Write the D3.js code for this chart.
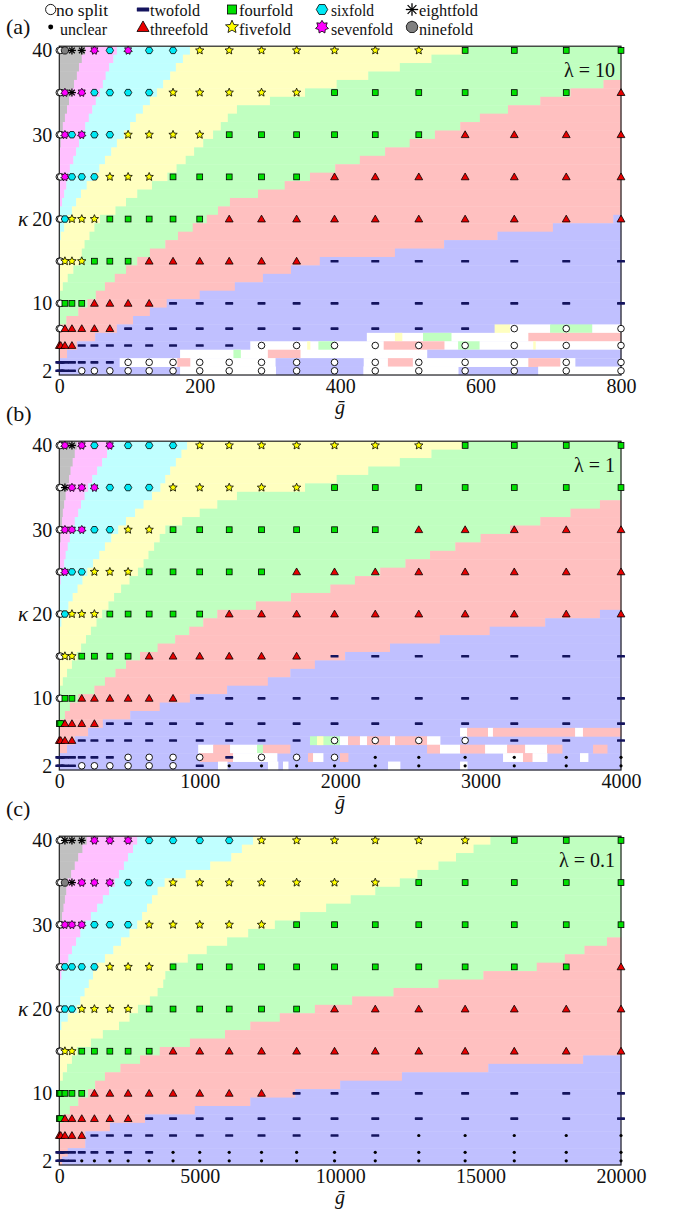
<!DOCTYPE html>
<html><head><meta charset="utf-8">
<script src="https://cdnjs.cloudflare.com/ajax/libs/d3/7.8.5/d3.min.js"></script>
<style>
body{margin:0;background:#fff}
text{font-family:"Liberation Serif","Times New Roman","DejaVu Serif",serif;fill:#111}
</style></head>
<body><svg id="c" width="678" height="1210"></svg>
<script>
// ---------------- DATA ----------------
const markerKappa = [40,35,30,25,20,15,10,7,5,3,2];
const bgKappa = [40,39,38,37,36,35,34,33,32,31,30,29,28,27,26,25,24,23,22,21,20,19,18,17,16,15,14,13,12,11,10,9,8,7,6,5,4,3,2];

const gA = [0,2,8,18,32,50,72,98,128,162,200,242,288,338,392,450,512,578,648,722,800];
const gB = [0,10,40,90,160,250,360,490,640,810,1000,1210,1440,1690,1960,2250,2560,2890,3240,3610,4000];
const gC = [0,50,200,450,800,1250,1800,2450,3200,4050,5000,6050,7200,8450,9800,11250,12800,14450,16200,18050,20000];

const ticksA = [0,200,400,600,800];
const ticksB = [0,1000,2000,3000,4000];
const ticksC = [0,5000,10000,15000,20000];
const yTicks = [2,10,20,30,40];

// marker classes: o no split, . unclear, 2..9 n-fold (one char per g column)
const markersA = [
 "oo9887676655555554444",
 "oo7876666555554444443",
 "oo7676655554444443333",
 "oo7666555444443333333",
 "oo6555444443333333333",
 "oo5554443333332222222",
 "oo4443333222222222222",
 "oo3333322222222222ooo",
 "333322222222ooooooooo",
 "2222222oooooooooooooo",
 "2222ooooooooooooooooo"];
const markersB = [
 "oo7876766655555554444",
 "oo8777666555554444444",
 "oo7776655444444433333",
 "oo7665554444433333333",
 "oo6555444443333333333",
 "oo5544443333332222222",
 "oo4433333322222222222",
 "443333222222222222222",
 "33332222222222oooo222",
 "2222222oooo2ooo......",
 "2222oooooo2.........."];
const markersC = [
 "oo8887776666555555444",
 "oo9877766555555544444",
 "oo7776665555544444444",
 "oo6666555444444444443",
 "oo6655554444443333333",
 "oo5544444333333333333",
 "444443333333322222222",
 "443333332222222222222",
 "3333322222222222.....",
 "222222222............",
 "2222................."];

// background: right edge (g) of each band per kappa row (bgKappa order)
const grayA  = [37,32,28,25,21,17,14,11,8,5,4,2,1,0,0,0,0,0,0,0,0,0,0,0,0,0,0,0,0,0,0,0,0,0,0,0,0,0,0];
const pinkA  = [82,77,71,66,62,58,52,47,42,37,32,28,24,20,15,12,10,7,4,1,0,0,0,0,0,0,0,0,0,0,0,0,0,0,0,0,0,0,0];
const cyanA  = [186,176,166,158,148,139,129,119,109,101,92,82,74,65,57,48,39,31,24,18,12,7,2,0,0,0,0,0,0,0,0,0,0,0,0,0,0,0,0];
const yellowA= [575,530,485,440,395,350,300,253,240,230,219,205,192,180,167,154,132,111,95,80,58,50,43,36,32,29,20,12,5,1,0,0,0,0,0,0,0,0,0];
const greenA = [800,800,800,800,775,728,685,639,599,571,535,499,464,428,393,357,321,283,243,226,210,190,169,151,129,111,95,79,65,52,40,27,10,0,0,0,0,0,0];
const redA   = [800,800,800,800,800,800,800,800,800,800,800,800,800,800,800,800,800,800,800,800,789,703,624,548,478,371,330,290,250,200,153,129,105,82,51,25,11,1,0];

const grayB  = [125,110,95,80,70,55,45,35,25,20,20,10,0,0,0,0,0,0,0,0,0,0,0,0,0,0,0,0,0,0,0,0,0,0,0,0,0,0,0];
const pinkB  = [375,340,305,270,235,205,180,155,135,110,90,75,60,45,35,25,10,0,0,0,0,0,0,0,0,0,0,0,0,0,0,0,0,0,0,0,0,0,0];
const cyanB  = [910,870,830,790,755,720,660,600,540,475,420,370,325,285,240,200,165,130,95,65,40,15,0,0,0,0,0,0,0,0,0,0,0,0,0,0,0,0,0];
const yellowB= [2875,2650,2425,2200,1975,1750,1265,1125,1000,875,755,715,675,635,600,560,500,440,390,350,305,265,225,190,155,125,90,55,25,5,0,0,0,0,0,0,0,0,0];
const greenB = [4000,4000,4000,4000,4000,4000,4000,3850,3640,3425,3210,3000,2820,2640,2465,2285,2105,1930,1650,1400,1125,1025,925,825,700,575,475,400,325,250,135,75,40,0,0,0,0,0,0];
const redB   = [4000,4000,4000,4000,4000,4000,4000,4000,4000,4000,4000,4000,4000,4000,4000,4000,4000,4000,4000,4000,3850,3460,3065,2710,2355,2035,1820,1645,1485,1195,930,715,505,310,205,110,55,0,0];

const grayC  = [975,825,675,550,425,300,250,200,150,100,100,25,0,0,0,0,0,0,0,0,0,0,0,0,0,0,0,0,0,0,0,0,0,0,0,0,0,0,0];
const pinkC  = [2775,2625,2450,2300,2125,1975,1775,1550,1350,1125,925,750,600,450,325,200,75,0,0,0,0,0,0,0,0,0,0,0,0,0,0,0,0,0,0,0,0,0,0];
const cyanC  = [6900,6500,6125,5375,4500,3750,3500,3300,3125,2950,2775,2500,2200,1925,1625,1350,1200,1050,900,750,625,300,75,0,0,0,0,0,0,0,0,0,0,0,0,0,0,0,0];
const yellowC= [15350,14750,14125,13500,12750,12125,11250,10375,9500,8575,7675,6725,5975,5250,4575,3950,3775,3700,3500,3225,2800,2500,2125,1550,1125,625,450,275,125,25,0,0,0,0,0,0,0,0,0];
const greenC = [20000,20000,20000,20000,20000,20000,20000,20000,20000,20000,20000,20000,19500,18700,18000,17000,15100,13500,11900,10425,9100,7850,6800,5900,4650,3575,2875,2175,1625,1275,1025,675,375,125,0,0,0,0,0];
const redC   = [20000,20000,20000,20000,20000,20000,20000,20000,20000,20000,20000,20000,20000,20000,20000,20000,20000,20000,20000,20000,20000,20000,20000,20000,20000,20000,18650,15275,12200,10000,8400,6800,4825,3050,1800,925,925,300,100];

// low-kappa irregular patches [kappa, g0, g1, class] (w = no split)
const patchesA = [
 [7,620,642,'5'],[7,642,699,'w'],[7,699,759,'4'],[7,759,800,'w'],
 [6,438,800,'w'],[6,478,488,'5'],[6,518,558,'4'],[6,668,800,'3'],
 [5,272,800,'w'],[5,353,357,'5'],[5,369,393,'4'],[5,462,548,'3'],[5,568,598,'4'],[5,675,678,'5'],
 [4,172,800,'w'],[4,248,258,'4'],[4,297,343,'3'],[4,524,800,'2'],
 [3,86,800,'w'],[3,168,186,'3'],[3,308,433,'2'],[3,468,503,'3'],[3,668,713,'3'],[3,735,800,'2'],
 [2,172,308,'w'],[2,433,568,'w'],[2,682,800,'w']];
const patchesB = [
 [6,2854,2904,'w'],[6,2904,3053,'3'],[6,3053,3088,'w'],[6,3088,3673,'3'],[6,3673,3729,'w'],[6,3729,4000,'3'],
 [5,1785,1999,'4'],[5,1835,1878,'5'],[5,1999,2056,'w'],[5,2056,2141,'3'],[5,2141,2191,'w'],[5,2191,2355,'3'],[5,2355,2391,'w'],[5,2391,2619,'3'],[5,2619,2711,'w'],
 [4,989,1096,'w'],[4,1096,1216,'3'],[4,1216,1408,'w'],[4,1408,1450,'4'],[4,1450,1643,'3'],[4,2619,2711,'3'],[4,2711,2854,'w'],[4,2854,3032,'3'],[4,3032,3189,'w'],[4,3189,3317,'3'],[4,3317,3473,'w'],[4,3473,3580,'3'],[4,3801,3901,'3'],
 [3,1001,1237,'3'],[3,1237,1550,'w'],[3,1771,1807,'3'],[3,1807,1878,'w'],[3,1999,2056,'3'],[3,3160,3302,'w'],[3,3302,3370,'3'],[3,3370,3473,'w'],[3,3708,3765,'w'],
 [2,1130,1195,'w'],[2,1486,1557,'w'],[2,1593,1629,'w'],[2,2341,2426,'w'],[2,2854,2904,'w']];
const patchesC = [];

const legendClasses = ['o','.','2','3','4','5','6','7','8','9'];
const legendLabels  = ['no split','unclear','twofold','threefold','fourfold','fivefold','sixfold','sevenfold','eightfold','ninefold'];

// ---------------- STYLE / LAYOUT ----------------
const bgOrder = ['9','7','6','5','4','3'];
const bgColor = {'9':'#c0c0c0','7':'#ffc0ff','6':'#c0ffff','5':'#ffffc0','4':'#c0ffc0','3':'#ffc0c0','2':'#c0c0ff','w':'#ffffff'};
const panels = [
 {label:'(a)', lam:'λ = 10', gmax:800, ticks:ticksA, g:gA, markers:markersA, bounds:[grayA,pinkA,cyanA,yellowA,greenA,redA], patches:patchesA, oy:0},
 {label:'(b)', lam:'λ = 1', gmax:4000, ticks:ticksB, g:gB, markers:markersB, bounds:[grayB,pinkB,cyanB,yellowB,greenB,redB], patches:patchesB, oy:395},
 {label:'(c)', lam:'λ = 0.1', gmax:20000, ticks:ticksC, g:gC, markers:markersC, bounds:[grayC,pinkC,cyanC,yellowC,greenC,redC], patches:patchesC, oy:790}
];
const X0 = 59.3, X1 = 621, YB = 375, YT = 46.2;

const svg = d3.select("#c");

function poly(n, r, rot){ const p=[]; for(let i=0;i<n;i++){const a=rot+2*Math.PI*i/n; p.push((r*Math.cos(a)).toFixed(2)+","+(r*Math.sin(a)).toFixed(2));} return "M"+p.join("L")+"Z"; }
function star(n, r1, r2){ const p=[]; for(let i=0;i<2*n;i++){const a=-Math.PI/2+Math.PI*i/n; const r=i%2?r2:r1; p.push((r*Math.cos(a)).toFixed(2)+","+(r*Math.sin(a)).toFixed(2));} return "M"+p.join("L")+"Z"; }

function marker(sel, cls, cx, cy, s){
  const g = sel.append("g").attr("transform",`translate(${cx},${cy})`);
  const sw = 0.8;
  switch(cls){
    case 'o': g.append("circle").attr("r",3.3*s).attr("fill","#fff").attr("stroke","#000").attr("stroke-width",0.9); break;
    case '.': g.append("circle").attr("r",1.6*s).attr("fill","#000"); break;
    case '2': g.append("rect").attr("x",-4*s).attr("y",-1.3*s).attr("width",8*s).attr("height",2.6*s).attr("rx",0.6).attr("fill","#14145e"); break;
    case '3': g.append("path").attr("d",`M0,${-3.9*s}L${3.9*s},${2.9*s}L${-3.9*s},${2.9*s}Z`).attr("fill","#e80000").attr("stroke","#000").attr("stroke-width",sw); break;
    case '4': g.append("rect").attr("x",-2.9*s).attr("y",-2.9*s).attr("width",5.8*s).attr("height",5.8*s).attr("fill","#00e000").attr("stroke","#000").attr("stroke-width",sw); break;
    case '5': g.append("path").attr("d",star(5,4.4*s,2.0*s)).attr("fill","#ffff00").attr("stroke","#000").attr("stroke-width",sw); break;
    case '6': g.append("path").attr("d",poly(6,3.7*s,0)).attr("fill","#00e8f4").attr("stroke","#000").attr("stroke-width",sw); break;
    case '7': g.append("path").attr("d",star(7,4.3*s,2.7*s)).attr("fill","#ff00ff").attr("stroke","#000").attr("stroke-width",sw); break;
    case '8': for(let i=0;i<4;i++){const a=Math.PI*i/4; g.append("line").attr("x1",-4*s*Math.cos(a)).attr("y1",-4*s*Math.sin(a)).attr("x2",4*s*Math.cos(a)).attr("y2",4*s*Math.sin(a)).attr("stroke","#000").attr("stroke-width",1.3);} break;
    case '9': g.append("path").attr("d",poly(9,3.8*s,-Math.PI/2)).attr("fill","#808080").attr("stroke","#000").attr("stroke-width",sw); break;
  }
}

panels.forEach(p => {
  const x = d3.scaleLinear().domain([0,p.gmax]).range([X0,X1]);
  const y = d3.scaleLinear().domain([1.5,40.5]).range([YB+p.oy, YT+p.oy]);
  const G = svg.append("g");

  // background segments
  const segs = [];
  bgKappa.forEach((k,i) => {
    let prev = 0;
    bgOrder.forEach((cls,j) => {
      const b = Math.min(p.gmax, Math.max(prev, p.bounds[j][i]));
      if (b > prev) segs.push({k, g0:prev, g1:b, cls});
      prev = b;
    });
    if (prev < p.gmax) segs.push({k, g0:prev, g1:p.gmax, cls:'2'});
  });
  p.patches.forEach(([k,g0,g1,cls]) => segs.push({k,g0,g1,cls}));
  G.append("g").selectAll("rect").data(segs).join("rect")
    .attr("x", d => x(d.g0))
    .attr("width", d => Math.max(0.5, x(d.g1)-x(d.g0)+0.4))
    .attr("y", d => y(d.k+0.5))
    .attr("height", d => y(d.k-0.5)-y(d.k+0.5)+0.4)
    .attr("fill", d => bgColor[d.cls]);

  // frame
  G.append("rect").attr("x",X0).attr("y",YT+p.oy).attr("width",X1-X0).attr("height",YB-YT)
    .attr("fill","none").attr("stroke","#222").attr("stroke-width",1.2);

  // axes
  const ax = G.append("g").attr("transform",`translate(0,${YB+p.oy})`)
    .call(d3.axisBottom(x).tickValues(p.ticks).tickSize(0).tickPadding(4).tickFormat(d3.format("d")));
  ax.select(".domain").remove();
  ax.selectAll("text").attr("font-size",20).attr("font-family","Liberation Serif").attr("fill","#111");
  const ay = G.append("g").attr("transform",`translate(${X0},0)`)
    .call(d3.axisLeft(y).tickValues(yTicks).tickSize(0).tickPadding(7));
  ay.select(".domain").remove();
  ay.selectAll("text").attr("font-size",20).attr("font-family","Liberation Serif").attr("fill","#111");

  G.append("text").attr("x",28).attr("y",y(20)+7).attr("text-anchor","end").attr("font-size",21).attr("font-style","italic").text("κ");
  G.append("text").attr("x",340).attr("y",YB+p.oy+39).attr("text-anchor","middle").attr("font-size",20).attr("font-style","italic").text("ḡ");
  G.append("text").attr("x",615).attr("y",77+p.oy).attr("text-anchor","end").attr("font-size",20).text(p.lam);
  G.append("text").attr("x",6).attr("y",(p.oy===0?34:p.oy+26)).attr("font-size",22).text(p.label);

  // markers
  const M = G.append("g");
  markerKappa.forEach((k,r) => {
    const row = p.markers[r];
    p.g.forEach((gv,n) => marker(M, row[n], x(gv), y(k), 1));
  });
});

// legend
const legX = [50.7,50.7,143,143,232,232,322,322,412,412];
const legTX = [56,60,150,150,239,239,331,331,419,419];
const legW = [52,47,50,58,54,52,43,62,59,54];
const L = svg.append("g");
legendClasses.forEach((c,i) => {
  const row = i%2;
  marker(L, c, legX[i], row?27:9.5, 1.55);
  L.append("text").attr("x",legTX[i]).attr("y",row?34.5:15.5).attr("font-size",16.5)
    .attr("textLength",legW[i]).attr("lengthAdjust","spacingAndGlyphs").text(legendLabels[i]);
});
</script></body></html>
